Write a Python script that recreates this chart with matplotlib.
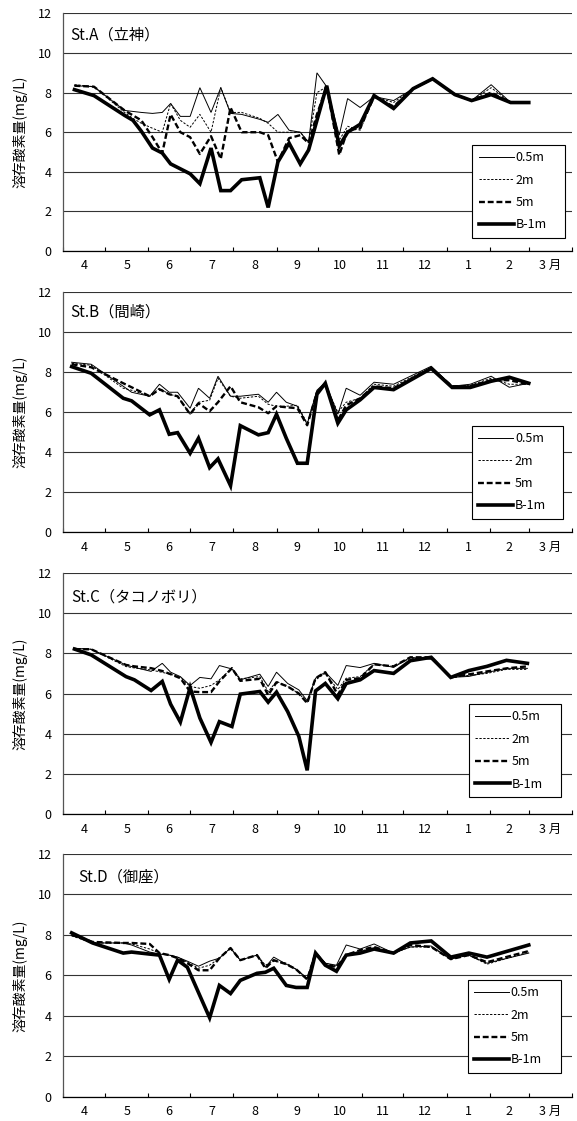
import numpy as np
import matplotlib
matplotlib.use("Agg")
import matplotlib.pyplot as plt

plt.rcParams['font.family'] = ['Noto Sans CJK JP', 'DejaVu Sans']

# month axis runs April -> March, x is days since April 1
MONTH_LABELS = ["4", "5", "6", "7", "8", "9", "10", "11", "12", "1", "2", "3 月"]
MONTH_DAYS = [30, 31, 30, 31, 31, 30, 31, 30, 31, 31, 28, 31]
DEPTHS = ["0.5m", "2m", "5m", "B-1m"]
YLABEL = "溶存酸素量(mg/L)"

# St.A
DAYS_A = [8, 22, 44, 50, 56, 64, 71, 77, 84, 91, 98, 106, 113, 120, 128, 141, 147, 154,
          162, 170, 176, 182, 189, 198, 204, 213, 223, 237, 251, 265, 281, 293, 307, 321, 334]
A_05 = [8.35, 8.3, 7.1, 7.05, 7.0, 6.95, 7.0, 7.45, 6.8, 6.8, 8.25, 7.0, 8.25, 6.95, 6.9, 6.65, 6.5, 6.9,
        6.1, 6.0, 5.5, 9.0, 8.3, 5.85, 7.7, 7.25, 7.8, 7.6, 8.2, 8.7, 7.9, 7.6, 8.4, 7.5, 7.5]
A_2 = [8.4, 8.3, 7.0, 6.7, 6.45, 6.2, 6.0, 7.45, 6.6, 6.25, 6.9, 6.0, 8.25, 7.0, 7.0, 6.7, 6.45, 6.0,
       6.0, 6.0, 5.5, 8.0, 8.3, 5.6, 6.3, 6.1, 7.8, 7.5, 8.2, 8.7, 7.9, 7.6, 8.25, 7.5, 7.5]
A_5 = [8.35, 8.3, 7.1, 6.85, 6.6, 5.75, 4.95, 6.9, 6.0, 5.75, 4.9, 5.8, 4.65, 7.25, 6.0, 6.0, 5.85, 4.5,
       5.7, 5.85, 5.45, 6.9, 8.3, 4.85, 6.1, 6.2, 7.8, 7.3, 8.2, 8.7, 7.9, 7.6, 8.0, 7.5, 7.5]
A_B1 = [8.15, 7.85, 6.85, 6.6, 6.05, 5.2, 4.95, 4.4, 4.15, 3.9, 3.4, 5.2, 3.05, 3.05, 3.6, 3.7, 2.2, 4.5,
        5.45, 4.4, 5.1, 6.6, 8.35, 5.3, 6.0, 6.4, 7.85, 7.2, 8.2, 8.7, 7.9, 7.6, 7.9, 7.5, 7.5]

# St.B
DAYS_B = [6, 20, 43, 49, 62, 69, 76, 82, 91, 97, 105, 111, 120, 127, 140, 147, 153, 160,
          168, 175, 182, 188, 197, 203, 213, 223, 237, 264, 279, 292, 307, 320, 334]
B_05 = [8.5, 8.4, 7.3, 7.0, 6.8, 7.4, 7.0, 7.0, 6.2, 7.2, 6.7, 7.8, 6.8, 6.8, 6.9, 6.5, 7.0, 6.5,
        6.3, 5.4, 7.1, 7.5, 5.9, 7.2, 6.85, 7.5, 7.4, 8.3, 7.3, 7.4, 7.8, 7.25, 7.45]
B_2 = [8.45, 8.35, 7.2, 7.1, 6.8, 7.2, 6.9, 6.8, 5.9, 6.5, 6.6, 7.7, 6.8, 6.7, 6.8, 6.4, 6.3, 6.3,
       6.35, 5.45, 7.0, 7.35, 6.0, 6.5, 6.7, 7.4, 7.3, 8.25, 7.3, 7.35, 7.7, 7.4, 7.4]
B_5 = [8.4, 8.25, 7.45, 7.25, 6.8, 7.15, 6.9, 6.8, 5.9, 6.45, 6.05, 6.5, 7.3, 6.5, 6.25, 5.95, 6.3, 6.25,
       6.2, 5.35, 7.0, 7.4, 5.6, 6.35, 6.7, 7.3, 7.2, 8.2, 7.3, 7.3, 7.6, 7.6, 7.4]
B_B1 = [8.28, 7.95, 6.7, 6.57, 5.87, 6.12, 4.9, 4.98, 3.95, 4.7, 3.23, 3.67, 2.33, 5.33, 4.87, 4.98, 5.9, 4.7,
        3.45, 3.45, 6.9, 7.45, 5.45, 6.12, 6.62, 7.24, 7.13, 8.19, 7.24, 7.24, 7.55, 7.75, 7.45]

# St.C
DAYS_C = [8, 20, 45, 51, 63, 71, 77, 84, 91, 98, 106, 112, 121, 127, 141, 147, 153, 161,
          169, 175, 181, 188, 197, 203, 213, 223, 237, 249, 264, 278, 291, 304, 318, 333]
C_05 = [8.25, 8.2, 7.42, 7.3, 7.1, 7.5, 7.06, 6.84, 6.4, 6.8, 6.73, 7.39, 7.22, 6.68, 6.96, 6.35, 7.06, 6.5,
        6.18, 5.64, 6.76, 7.06, 6.4, 7.39, 7.29, 7.5, 7.3, 7.8, 7.7, 6.8, 6.85, 7.05, 7.25, 7.25]
C_2 = [8.25, 8.2, 7.34, 7.27, 7.17, 7.05, 6.96, 6.8, 6.35, 6.26, 6.4, 6.68, 7.26, 6.73, 6.84, 6.1, 6.6, 6.35,
       6.0, 5.57, 6.68, 7.0, 6.2, 6.76, 6.84, 7.45, 7.35, 7.75, 7.75, 6.8, 6.9, 7.0, 7.2, 7.2]
C_5 = [8.2, 8.2, 7.42, 7.35, 7.26, 7.12, 6.96, 6.76, 6.1, 6.07, 6.07, 6.6, 7.26, 6.63, 6.73, 5.92, 6.56, 6.35,
       6.0, 5.52, 6.76, 7.06, 5.93, 6.68, 6.76, 7.45, 7.35, 7.8, 7.8, 6.8, 6.95, 7.1, 7.25, 7.35]
C_B1 = [8.21, 7.92, 6.84, 6.68, 6.15, 6.6, 5.47, 4.58, 6.3, 4.78, 3.57, 4.6, 4.36, 5.97, 6.1, 5.57, 6.07, 5.1,
        3.87, 2.18, 6.13, 6.5, 5.74, 6.5, 6.68, 7.14, 7.0, 7.63, 7.8, 6.8, 7.14, 7.35, 7.65, 7.5]

# St.D
DAYS_D = [6, 21, 43, 49, 62, 69, 76, 82, 89, 97, 105, 112, 120, 127, 139, 145, 151, 160,
          167, 175, 181, 188, 196, 203, 213, 223, 237, 249, 264, 278, 291, 304, 334]
D_05 = [8.0, 7.6, 7.6, 7.5, 7.15, 7.05, 7.0, 6.9, 6.7, 6.45, 6.7, 6.85, 7.35, 6.75, 7.0, 6.4, 6.9, 6.55,
        6.3, 5.85, 7.15, 6.6, 6.5, 7.5, 7.3, 7.55, 7.1, 7.4, 7.45, 6.8, 7.0, 6.6, 7.1]
D_2 = [7.95, 7.6, 7.6, 7.55, 7.3, 7.1, 7.0, 6.9, 6.65, 6.35, 6.5, 6.85, 7.35, 6.75, 7.0, 6.5, 6.7, 6.6,
       6.3, 5.85, 7.1, 6.6, 6.45, 7.0, 7.2, 7.35, 7.1, 7.4, 7.4, 6.8, 7.0, 6.55, 7.15]
D_5 = [8.0, 7.65, 7.6, 7.6, 7.55, 7.1, 7.0, 6.85, 6.6, 6.25, 6.25, 6.85, 7.35, 6.75, 7.0, 6.35, 6.75, 6.55,
       6.3, 5.8, 7.1, 6.55, 6.4, 7.0, 7.25, 7.4, 7.1, 7.5, 7.4, 6.8, 7.0, 6.65, 7.2]
D_B1 = [8.1, 7.6, 7.1, 7.15, 7.05, 7.0, 5.8, 6.75, 6.4, 5.15, 3.9, 5.5, 5.1, 5.75, 6.1, 6.15, 6.35, 5.5,
        5.4, 5.4, 7.1, 6.5, 6.2, 7.0, 7.1, 7.3, 7.1, 7.6, 7.7, 6.9, 7.1, 6.9, 7.5]

STATIONS = [
    ("St.A（立神）", DAYS_A, [A_05, A_2, A_5, A_B1]),
    ("St.B（間崎）", DAYS_B, [B_05, B_2, B_5, B_B1]),
    ("St.C（タコノボリ）", DAYS_C, [C_05, C_2, C_5, C_B1]),
    ("St.D（御座）", DAYS_D, [D_05, D_2, D_5, D_B1]),
]

# line styles per depth
STYLES = [
    dict(lw=0.7, ls="-"),
    dict(lw=0.7, ls=(0, (2.4, 1.6))),
    dict(lw=1.7, ls=(0, (2.5, 1.2))),
    dict(lw=2.6, ls="-"),
]

# axes rectangles in figure fraction (left, bottom, width, height)
AX_RECTS = [
    (0.1097, 0.7761, 0.8816, 0.2119),
    (0.1097, 0.5252, 0.8816, 0.2141),
    (0.1097, 0.2737, 0.8816, 0.2153),
    (0.1097, 0.0217, 0.8816, 0.2165),
]
# legend box (x0, y0, w, h) in axes fraction
LEG_BOXES = [
    (0.804, 0.056, 0.183, 0.39),
    (0.803, 0.040, 0.180, 0.403),
    (0.797, 0.052, 0.182, 0.404),
    (0.795, 0.083, 0.184, 0.398),
]
TITLE_POS = [(0.013, 0.909), (0.013, 0.919), (0.016, 0.898), (0.03, 0.906)]

fig = plt.figure(figsize=(5.77, 11.21), dpi=100)

bounds = np.concatenate([[0], np.cumsum(MONTH_DAYS)])
centers = (bounds[:-1] + bounds[1:]) / 2

for i, (title, days, series) in enumerate(STATIONS):
    ax = fig.add_axes(AX_RECTS[i])
    lines = []
    for vals, name, st in zip(series, DEPTHS, STYLES):
        ln, = ax.plot(days, vals, color="black", label=name, solid_joinstyle="miter", **st)
        lines.append(ln)

    ax.set_xlim(0, 365)
    ax.set_ylim(0, 12)
    ax.set_yticks(range(0, 13, 2))
    ax.yaxis.grid(True, color="#333333", lw=0.8)
    ax.set_axisbelow(True)

    ax.set_xticks(bounds)
    ax.set_xticks(centers, minor=True)
    ax.set_xticklabels(MONTH_LABELS, minor=True)
    ax.tick_params(axis="x", which="major", direction="in", length=3, width=0.8, labelbottom=False)
    ax.tick_params(axis="x", which="minor", length=0, labelsize=9, pad=6)
    ax.tick_params(axis="y", length=0, labelsize=9, pad=8.5)

    for s in ["top", "right"]:
        ax.spines[s].set_visible(False)
    ax.spines["left"].set_color("#555555")
    ax.spines["bottom"].set_color("black")
    ax.spines["left"].set_linewidth(0.9)
    ax.spines["bottom"].set_linewidth(0.9)

    ax.set_ylabel(YLABEL, fontsize=10)
    ax.yaxis.set_label_coords(-0.07, 0.5)

    tx, ty = TITLE_POS[i]
    ax.text(tx, ty, title, transform=ax.transAxes, fontsize=11, va="center", ha="left")

    leg = ax.legend(handles=lines, loc="upper left", bbox_to_anchor=LEG_BOXES[i], mode="expand",
                    borderaxespad=0, fontsize=9, fancybox=False, edgecolor="black", framealpha=1,
                    handlelength=2.8, handletextpad=0.15, labelspacing=0.75, borderpad=0.5)
    leg.get_frame().set_linewidth(0.8)

fig.savefig("out.png", dpi=100)
